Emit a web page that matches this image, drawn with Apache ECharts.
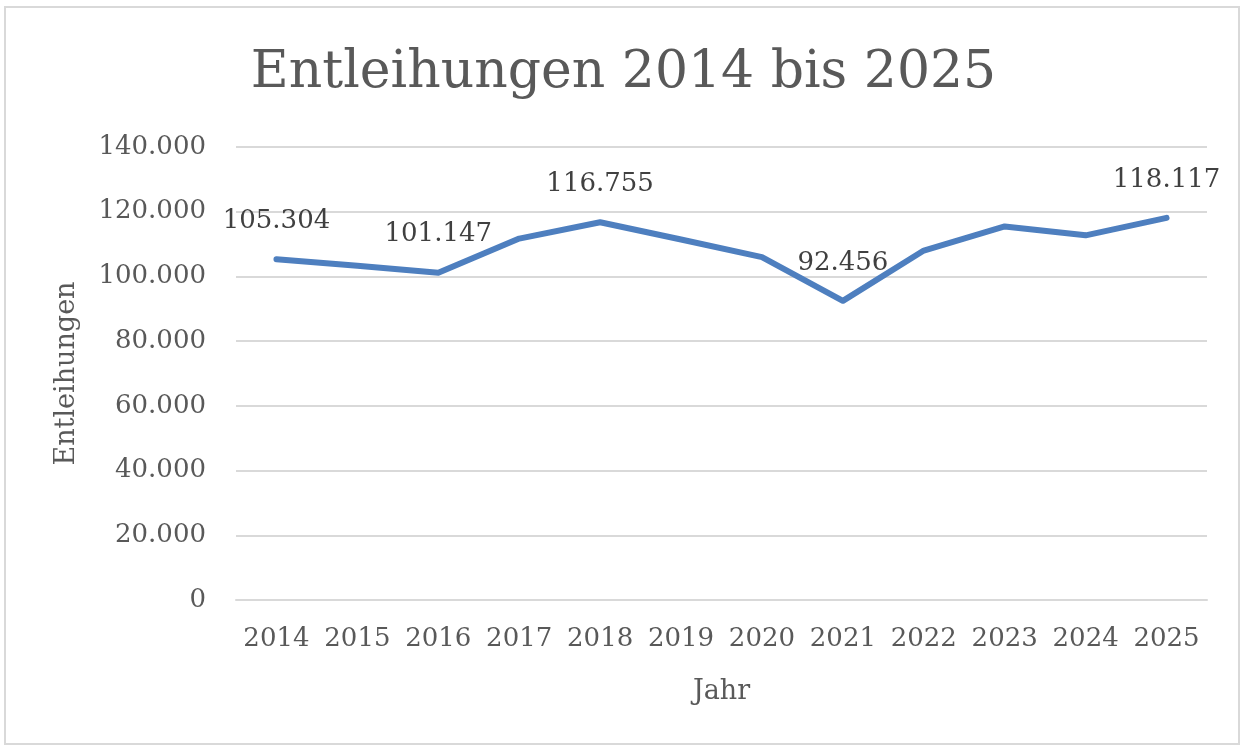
<!DOCTYPE html>
<html lang="de">
<head>
    <meta charset="UTF-8">
    <title>Entleihungen 2014 bis 2025</title>
    <script src="https://cdn.jsdelivr.net/npm/echarts@6/dist/echarts.min.js"></script>
    <style>
        body { margin: 0; padding: 0; background: #fff; overflow: hidden; }
        #frame {
            position: absolute; left: 4px; top: 6px; width: 1236px; height: 739px;
            border: 2px solid #d9d9d9; box-sizing: border-box;
        }
        #echart { width: 1247px; height: 752px; }
    </style>
</head>
<body>
<div id="frame"></div>
<div id="echart"></div>
<script>
const years = ['2014','2015','2016','2017','2018','2019','2020','2021','2022','2023','2024','2025'];
const loans = [105304, 103300, 101147, 111700, 116755, 111400, 105950, 92456, 108000, 115450, 112700, 118117];
// nur diese Jahre haben eine Beschriftung
const labeledYears = ['2014','2016','2018','2021','2025'];
const yTicks = [0, 20000, 40000, 60000, 80000, 100000, 120000, 140000];

const font = 'DejaVu Serif';
const grey = '#595959';
const fmt = v => String(v).replace(/\B(?=(\d{3})+(?!\d))/g, '.');

let ec = echarts.init(document.getElementById('echart'));
ec.setOption({
    title: {
        text: 'Entleihungen 2014 bis 2025',
        left: 'center',
        top: 42,
        textStyle: { fontFamily: font, fontSize: 52, fontWeight: 'normal', color: grey }
    },
    grid: { left: 236, right: 40, top: 147, bottom: 152 },
    xAxis: {
        type: 'category',
        data: years,
        name: 'Jahr',
        nameLocation: 'middle',
        nameGap: 78,
        nameTextStyle: { fontFamily: font, fontSize: 27, color: grey },
        axisLine: { lineStyle: { color: '#d9d9d9', width: 2 } },
        axisTick: { show: false },
        axisLabel: { fontFamily: font, fontSize: 26, color: grey, margin: 26, interval: 0 }
    },
    yAxis: {
        type: 'value',
        min: yTicks[0],
        max: yTicks[yTicks.length - 1],
        interval: 20000,
        name: 'Entleihungen',
        nameLocation: 'middle',
        nameRotate: 90,
        nameGap: 156,
        nameTextStyle: { fontFamily: font, fontSize: 27, color: grey },
        axisLine: { show: false },
        axisTick: { show: false },
        splitLine: { lineStyle: { color: '#d9d9d9', width: 2 } },
        axisLabel: { fontFamily: font, fontSize: 26, color: grey, margin: 30, formatter: fmt }
    },
    series: [{
        type: 'line',
        data: loans.map((v, i) => ({
            value: v,
            label: { show: labeledYears.includes(years[i]) }
        })),
        symbol: 'circle',
        symbolSize: 2,
        showSymbol: true,
        showAllSymbol: true,
        lineStyle: { color: '#4e7fbf', width: 6, cap: 'round', join: 'round' },
        itemStyle: { color: 'rgba(78,127,191,0)', borderWidth: 0 },
        label: {
            position: 'top',
            distance: 24,
            fontFamily: font,
            fontSize: 26,
            color: '#404040',
            formatter: p => fmt(p.value)
        },
        animation: false
    }]
});
</script>
</body>
</html>
